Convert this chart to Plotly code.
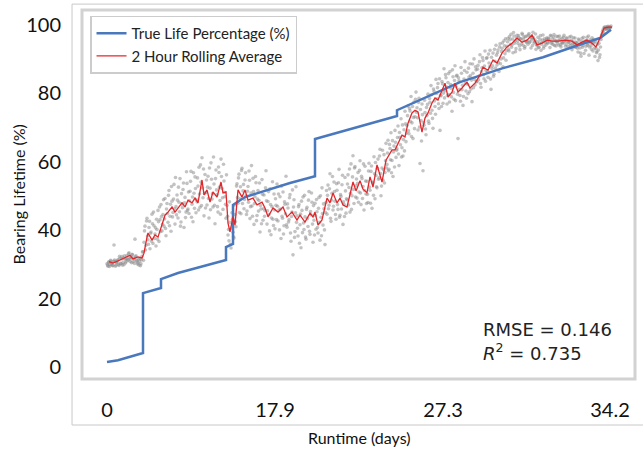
import plotly.graph_objects as go

# ---- data (x = sample index) ----
tick_idx = [0, 168, 336, 503]
tick_labels = ["0", "17.9", "27.3", "34.2"]

true_x = [0, 11, 36, 36, 54, 54, 71, 119, 119, 126, 126, 138, 183, 208, 208, 258, 290, 290, 353, 396, 436, 463, 493, 504]
true_y = [1.5, 2.0, 4.1, 21.6, 23.1, 25.7, 27.5, 31.3, 35.1, 36.0, 47.4, 49.7, 53.8, 55.8, 66.7, 70.8, 73.4, 75.1, 83.3, 87.4, 90.6, 93.3, 96.2, 98.6]

roll_x = [2, 6, 13, 20, 23, 26, 31, 35, 37, 40, 41, 45, 48, 51, 55, 58, 61, 65, 68, 71, 75, 78, 81, 85, 88, 91, 95, 97,
          100, 103, 106, 110, 114, 116, 119, 121, 123, 126, 128, 131, 135, 138, 141, 146, 150, 155, 158, 161, 166, 171,
          176, 180, 185, 190, 193, 198, 203, 206, 208, 211, 215, 220, 223, 226, 230, 233, 236, 240, 243, 246, 249, 253,
          256, 260, 263, 266, 270, 275, 279, 281, 285, 288, 291, 295, 298, 301, 305, 308, 311, 315, 318, 321, 325, 328,
          331, 335, 338, 341, 345, 348, 351, 355, 360, 363, 368, 373, 376, 381, 386, 390, 395, 400, 405, 410, 415, 420,
          425, 430, 435, 440, 445, 451, 458, 465, 470, 475, 480, 485, 489, 493, 497, 501, 505]
roll_y = [30.8, 30.4, 31.3, 32.2, 32.7, 31.6, 32.2, 31.9, 33.3, 38.0, 39.2, 37.1, 38.6, 38.0, 42.1, 44.4, 45.3, 46.8,
          45.3, 46.5, 48.0, 46.8, 48.8, 48.0, 49.4, 48.0, 54.7, 50.3, 51.8, 48.2, 51.2, 49.7, 54.1, 50.9, 51.2, 42.1,
          39.5, 44.0, 41.5, 51.8, 49.7, 51.8, 48.8, 49.4, 47.4, 48.2, 46.5, 43.9, 46.5, 45.3, 46.8, 43.9, 45.3, 43.0,
          44.4, 42.4, 45.0, 43.9, 45.3, 41.5, 43.0, 49.4, 48.0, 50.9, 48.0, 49.4, 47.4, 46.8, 50.9, 54.1, 51.5, 54.5,
          52.0, 51.0, 55.6, 52.6, 59.1, 54.1, 60.5, 61.4, 63.5, 63.5, 65.5, 67.8, 67.3, 71.3, 74.3, 75.1, 74.6, 68.7,
          72.8, 74.3, 77.2, 78.7, 78.1, 81.0, 83.0, 78.9, 80.4, 83.0, 80.4, 81.6, 83.3, 81.6, 83.0, 85.4, 87.7, 86.8,
          89.8, 88.9, 91.8, 93.6, 94.7, 96.2, 95.0, 95.6, 97.1, 94.2, 94.7, 95.6, 95.3, 95.3, 95.6, 95.3, 94.2, 95.0,
          95.6, 94.7, 93.6, 96.2, 99.1, 99.4, 99.4]

# model predictions at whole sample indices
pred_y = [
    30.2, 29.5, 30.8, 29.9, 31.0, 30.4, 29.6, 35.7, 30.9, 29.8,
    30.5, 31.4, 29.7, 31.8, 30.2, 32.3, 30.6, 29.9, 31.5, 30.8,
    32.6, 31.2, 33.4, 30.9, 32.1, 33.0, 30.7, 31.4, 37.4, 32.5,
    31.0, 30.4, 29.8, 31.7, 30.2, 32.4, 33.8, 36.5, 41.2, 35.6,
    43.5, 37.2, 40.8, 34.6, 39.5, 44.7, 36.1, 41.3, 38.9, 35.4,
    40.2, 45.8, 36.7, 43.1, 47.5, 39.8, 44.6, 41.2, 49.3, 38.4,
    47.8, 42.3, 51.6, 44.1, 39.7, 48.5, 45.2, 53.4, 41.8, 46.9,
    50.3, 43.6, 48.2, 55.1, 42.4, 47.7, 51.9, 40.8, 49.6, 45.3,
    53.7, 46.2, 44.9, 51.4, 57.2, 47.6, 42.5, 50.8, 55.6, 45.1,
    48.3, 52.9, 58.4, 46.7, 54.1, 61.2, 49.5, 44.2, 56.3, 51.0,
    47.4, 55.8, 43.6, 52.3, 59.7, 49.1, 46.8, 53.5, 41.9, 57.6,
    50.4, 45.3, 56.9, 48.7, 60.8, 52.2, 46.1, 54.4, 49.8, 43.5,
    47.2, 38.6, 36.9, 42.3, 34.8, 45.1, 39.4, 37.7, 44.6, 41.0,
    53.6, 47.9, 56.4, 49.2, 44.8, 58.1, 51.5, 46.3, 54.7, 50.1,
    45.6, 52.8, 57.3, 43.4, 50.9, 47.1, 55.2, 41.7, 49.8, 53.9,
    44.3, 51.6, 48.7, 39.5, 46.2, 54.8, 42.9, 50.3, 45.7, 57.4,
    41.8, 48.4, 44.6, 52.1, 38.7, 46.9, 43.2, 50.6, 40.4, 47.3,
    53.5, 42.7, 45.9, 49.8, 37.6, 44.1, 51.2, 41.3, 47.6, 55.8,
    40.9, 46.5, 43.1, 50.4, 36.8, 45.3, 32.8, 48.9, 39.6, 52.7,
    44.2, 38.3, 47.5, 41.6, 34.9, 45.8, 49.7, 40.2, 43.9, 37.4,
    46.7, 41.1, 51.3, 38.8, 44.5, 48.2, 36.5, 42.9, 47.9, 40.3,
    45.4, 39.2, 49.6, 37.1, 43.8, 52.4, 41.5, 46.3, 35.8, 48.1,
    44.7, 53.2, 47.3, 56.5, 42.6, 50.8, 45.9, 54.1, 48.5, 43.2,
    51.7, 46.1, 57.8, 44.4, 49.9, 53.3, 41.7, 47.6, 55.4, 45.0,
    48.9, 56.2, 52.5, 45.3, 59.4, 50.1, 61.8, 47.8, 58.6, 53.0,
    49.4, 56.9, 51.2, 60.3, 47.5, 55.1, 52.8, 45.9, 58.7, 50.6,
    54.3, 48.1, 59.6, 51.7, 57.2, 46.4, 53.9, 61.5, 49.2, 56.0,
    52.4, 60.8, 55.3, 63.7, 50.1, 58.2, 54.6, 62.1, 56.9, 65.4,
    59.2, 66.3, 57.8, 63.9, 68.5, 60.4, 55.7, 64.6, 69.2, 61.3,
    63.8, 70.5, 58.9, 67.2, 72.6, 64.1, 61.7, 69.4, 74.8, 65.9,
    70.6, 76.3, 68.2, 74.9, 79.1, 71.4, 66.8, 77.5, 73.2, 80.4,
    75.8, 69.3, 78.6, 59.5, 72.1, 76.9, 57.4, 70.7, 74.4, 67.9,
    73.6, 79.8, 71.2, 77.4, 82.3, 75.1, 69.8, 80.6, 76.2, 84.1,
    78.4, 82.9, 75.6, 69.2, 79.3, 83.5, 77.1, 87.2, 80.8, 84.6,
    76.9, 83.2, 79.7, 86.4, 81.5, 74.8, 84.9, 78.3, 88.1, 82.0,
    85.3, 66.8, 83.7, 79.4, 87.6, 81.1, 76.5, 84.2, 89.3, 80.7,
    86.2, 79.9, 84.8, 88.7, 81.3, 77.6, 85.9, 90.1, 82.5, 86.9,
    83.4, 88.2, 85.1, 91.3, 81.8, 87.5, 89.6, 84.3, 92.4, 86.7,
    90.5, 84.7, 88.9, 92.6, 81.2, 87.3, 91.8, 85.6, 89.4, 94.1,
    88.3, 92.7, 86.4, 94.5, 90.1, 93.2, 87.8, 95.4, 91.6, 89.7,
    93.8, 96.1, 92.4, 95.7, 97.3, 94.2, 91.9, 96.8, 95.3, 93.1,
    97.0, 94.6, 96.3, 92.8, 95.9, 97.6, 94.1, 96.5, 93.7, 95.2,
    96.8, 94.4, 97.5, 95.1, 93.3, 96.2, 97.9, 94.8, 95.6, 92.9,
    94.0, 96.4, 93.5, 95.8, 92.6, 94.9, 97.1, 93.8, 95.4, 94.2,
    96.3, 94.7, 95.9, 93.4, 96.8, 95.0, 94.3, 97.2, 95.6, 93.9,
    95.2, 96.6, 94.1, 95.8, 93.6, 96.1, 94.9, 97.0, 95.5, 94.4,
    96.0, 93.7, 95.4, 94.6, 96.7, 92.8, 95.1, 94.3, 96.2, 93.5,
    94.8, 92.1, 95.6, 93.3, 90.9, 96.1, 94.0, 91.7, 95.3, 93.8,
    96.4, 94.5, 91.2, 95.7, 93.9, 96.3, 92.4, 94.8, 90.8, 93.1,
    92.2, 89.6, 94.7, 91.3, 95.8, 97.4, 98.6, 99.2, 98.8, 99.5,
    99.1, 99.6, 98.9, 99.3, 99.7,
]

# model predictions at half sample indices
pred_y2 = [
    29.8, 30.6, 29.4, 31.2, 30.1, 29.7, 30.9, 31.3, 29.5, 30.7,
    31.1, 30.0, 32.4, 30.3, 31.6, 29.8, 31.9, 32.5, 30.4, 31.7,
    31.5, 33.1, 32.0, 31.6, 30.5, 32.8, 31.9, 30.3, 32.2, 31.1,
    30.1, 31.6, 30.9, 29.6, 31.4, 33.6, 31.2, 39.8, 34.2, 42.7,
    38.3, 35.9, 42.6, 39.1, 36.8, 41.9, 45.3, 37.6, 40.7, 43.2,
    37.4, 42.5, 46.8, 39.6, 44.0, 41.7, 48.9, 43.3, 40.5, 46.2,
    44.9, 50.2, 41.3, 47.6, 52.8, 43.9, 49.1, 46.3, 55.4, 44.5,
    48.8, 52.6, 45.4, 41.2, 50.7, 46.6, 53.8, 48.0, 43.7, 57.1,
    45.8, 51.2, 48.6, 54.3, 43.8, 49.7, 56.8, 46.4, 52.2, 48.9,
    55.3, 45.9, 50.6, 59.1, 47.2, 52.4, 57.9, 50.8, 46.5, 54.7,
    52.6, 49.3, 58.2, 46.0, 54.9, 50.7, 61.4, 47.3, 55.1, 51.8,
    46.9, 58.5, 52.6, 44.7, 55.7, 49.5, 59.3, 51.1, 47.6, 56.2,
    44.1, 40.2, 48.3, 35.9, 40.6, 43.2, 38.1, 47.4, 42.5, 52.9,
    49.6, 55.3, 45.2, 52.7, 57.5, 47.8, 53.4, 49.0, 56.8, 44.6,
    51.4, 48.2, 54.6, 46.9, 58.9, 44.1, 51.3, 47.8, 55.7, 42.8,
    49.1, 45.6, 53.8, 47.2, 41.9, 50.5, 46.3, 44.1, 52.4, 48.6,
    45.7, 51.3, 39.8, 47.5, 43.6, 54.2, 41.4, 45.9, 49.2, 43.1,
    47.0, 50.6, 40.1, 46.2, 52.9, 43.5, 38.9, 48.3, 44.8, 41.6,
    47.7, 42.4, 49.5, 39.2, 44.0, 51.8, 46.8, 37.9, 45.1, 42.3,
    40.6, 46.9, 36.2, 44.7, 48.5, 39.3, 42.1, 50.2, 38.0, 46.1,
    43.4, 48.8, 39.7, 45.5, 50.9, 41.8, 47.2, 38.6, 44.3, 49.0,
    40.8, 46.4, 42.3, 50.1, 38.4, 44.9, 47.7, 40.1, 45.2, 51.6,
    50.2, 46.3, 52.1, 43.5, 48.8, 55.7, 47.0, 51.3, 44.6, 53.6,
    47.5, 53.9, 43.8, 50.4, 46.2, 56.1, 48.3, 44.0, 51.5, 49.2,
    53.5, 47.4, 57.9, 50.8, 46.1, 55.6, 51.9, 58.2, 49.7, 55.0,
    53.7, 48.2, 57.5, 50.9, 55.8, 49.3, 59.4, 51.6, 54.4, 47.8,
    50.5, 57.3, 52.6, 47.9, 58.8, 54.1, 50.2, 56.5, 59.8, 52.7,
    58.1, 54.9, 61.7, 56.6, 52.9, 63.4, 57.7, 53.8, 60.3, 58.2,
    62.6, 57.4, 65.1, 60.6, 56.8, 66.2, 62.9, 58.5, 65.7, 63.4,
    67.1, 62.3, 68.6, 65.0, 61.4, 70.8, 66.5, 63.2, 71.1, 68.4,
    73.5, 69.1, 75.6, 71.8, 67.4, 76.2, 73.0, 69.7, 78.3, 74.5,
    72.9, 77.4, 70.2, 75.3, 66.1, 73.8, 71.5, 78.0, 69.6, 75.9,
    76.8, 71.9, 78.5, 74.2, 79.6, 72.7, 81.3, 77.8, 73.9, 80.0,
    81.7, 77.0, 84.3, 79.5, 76.2, 82.8, 80.1, 78.7, 85.5, 81.9,
    79.4, 85.8, 77.5, 82.6, 79.0, 86.9, 80.3, 83.8, 77.9, 85.1,
    79.8, 84.6, 81.2, 77.7, 85.9, 82.4, 79.1, 86.7, 83.0, 78.6,
    82.7, 87.4, 80.5, 85.2, 83.9, 88.6, 81.7, 84.1, 87.8, 83.5,
    87.1, 84.0, 89.3, 82.9, 86.4, 90.5, 85.5, 88.0, 83.6, 90.2,
    86.3, 91.5, 87.8, 84.2, 90.6, 88.1, 85.0, 92.9, 87.4, 91.2,
    91.9, 89.0, 93.6, 88.7, 92.3, 94.8, 90.4, 93.9, 96.0, 92.5,
    95.1, 92.9, 96.6, 94.4, 93.5, 95.9, 97.8, 94.7, 92.2, 96.2,
    95.4, 96.9, 93.9, 96.0, 94.5, 97.2, 95.8, 93.2, 96.6, 94.9,
    95.3, 97.1, 94.9, 96.5, 95.7, 94.0, 96.3, 95.1, 97.4, 94.3,
    95.1, 93.4, 94.7, 96.9, 94.4, 95.6, 93.2, 96.0, 94.8, 95.9,
    94.9, 96.1, 95.3, 97.0, 94.6, 95.9, 96.5, 94.0, 95.3, 96.7,
    94.7, 95.5, 96.8, 94.2, 95.0, 94.6, 96.4, 95.2, 93.8, 96.3,
    95.2, 94.9, 96.5, 93.9, 95.6, 94.4, 96.3, 93.6, 95.0, 94.7,
    93.2, 95.9, 94.4, 91.8, 95.2, 93.5, 96.4, 94.9, 92.6, 95.5,
    94.1, 96.8, 93.6, 95.0, 92.9, 94.6, 95.8, 93.3, 95.1, 91.9,
    94.3, 92.7, 90.5, 93.6, 96.9, 98.1, 97.8, 99.4, 99.0, 98.7,
    99.4, 98.8, 99.5, 99.2,
]

pred_x = [i for i in range(len(pred_y))] + [i + 0.5 for i in range(len(pred_y2))]
pred_all = pred_y + pred_y2

FONT = "Lato"

fig = go.Figure()
fig.add_trace(go.Scatter(x=pred_x, y=pred_all, mode="markers", showlegend=False,
                         marker=dict(size=3.6, color="rgba(135,135,135,0.5)", line=dict(width=0)),
                         hoverinfo="skip"))
fig.add_trace(go.Scatter(x=true_x, y=true_y, mode="lines", name="True Life Percentage (%)",
                         line=dict(color="#4a78bd", width=2.5)))
fig.add_trace(go.Scatter(x=roll_x, y=roll_y, mode="lines", name="2 Hour Rolling Average",
                         line=dict(color="#e3262a", width=1.3)))

fig.update_layout(
    width=643, height=449,
    margin=dict(l=82, r=8, t=10, b=70),
    paper_bgcolor="white", plot_bgcolor="white",
    font=dict(family=FONT, color="#111111"),
    showlegend=True,
    legend=dict(x=0.0145, y=0.985, xanchor="left", yanchor="top",
                bgcolor="white", bordercolor="#cccccc", borderwidth=1.5,
                font=dict(family=FONT, size=15, color="#222222"),
                itemwidth=30, tracegroupgap=0),
    xaxis=dict(range=[-25, 528], tickmode="array", tickvals=tick_idx, ticktext=tick_labels,
               showgrid=False, zeroline=False, showline=False,
               ticks="outside", ticklen=13, tickcolor="rgba(0,0,0,0)",
               tickfont=dict(family=FONT, size=20, color="#111111")),
    yaxis=dict(range=[-3.5, 104.4], tickmode="array", tickvals=[0, 20, 40, 60, 80, 100],
               showgrid=False, zeroline=False, showline=False,
               ticks="outside", ticklen=16, tickcolor="rgba(0,0,0,0)",
               tickfont=dict(family=FONT, size=20, color="#111111")),
    shapes=[
        dict(type="rect", xref="paper", yref="paper", x0=-0.018, x1=1.05, y0=-0.1247, y1=1.016,
             line=dict(color="#c8c8c8", width=1), layer="below"),
        dict(type="rect", xref="paper", yref="paper", x0=0, x1=1, y0=0, y1=1,
             line=dict(color="#d2d2d2", width=3), layer="below"),
    ],
    annotations=[
        dict(text="Runtime (days)", xref="paper", yref="paper", x=0.5, y=-0.158,
             xanchor="center", yanchor="middle", showarrow=False,
             font=dict(family=FONT, size=16, color="#111111")),
        dict(text="Bearing Lifetime (%)", xref="paper", yref="paper", x=-0.114, y=0.5,
             xanchor="center", yanchor="middle", textangle=-90, showarrow=False,
             font=dict(family=FONT, size=16, color="#111111")),
        dict(text="RMSE = 0.146", xref="paper", yref="paper", x=0.722, y=0.1335,
             xanchor="left", yanchor="middle", showarrow=False,
             font=dict(family="DejaVu Sans", size=18, color="#222222")),
        dict(text="<i>R</i><sup>2</sup> = 0.735", xref="paper", yref="paper", x=0.722, y=0.0736,
             xanchor="left", yanchor="middle", showarrow=False,
             font=dict(family="DejaVu Sans", size=18, color="#222222")),
    ],
)

fig.write_html("out.html", config={"displayModeBar": False},
               post_script="document.body.style.margin='0';document.body.style.overflow='hidden';")
